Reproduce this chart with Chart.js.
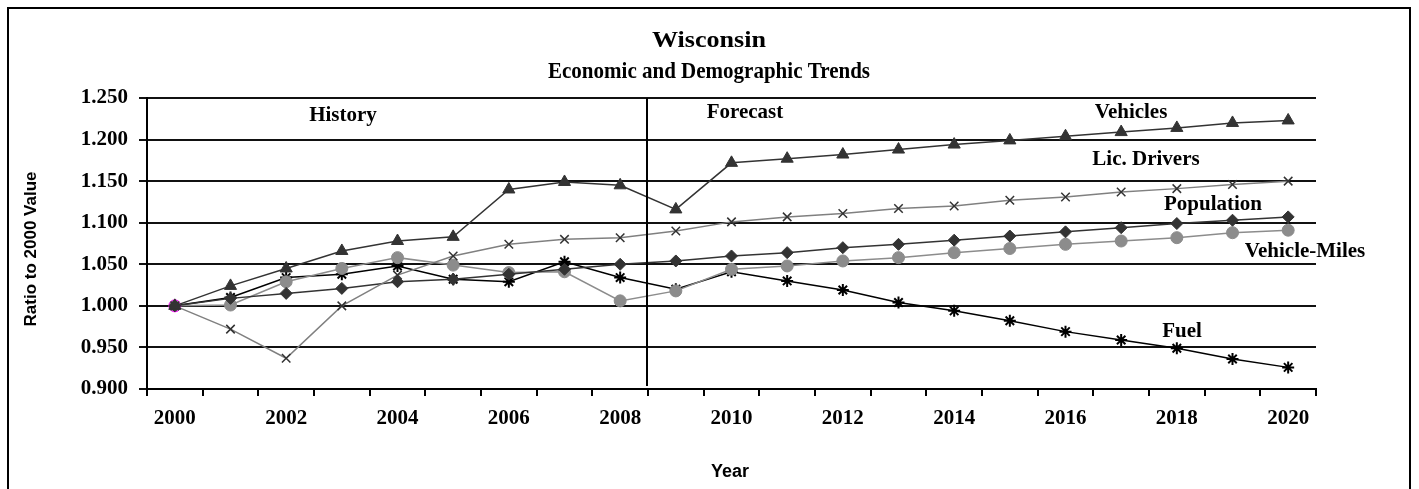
<!DOCTYPE html>
<html>
<head>
<meta charset="utf-8">
<script src="https://cdn.jsdelivr.net/npm/chart.js@4"></script>
<style>
html,body{margin:0;padding:0;background:#fff;}
#wrap{width:1419px;height:489px;position:relative;}
</style>
</head>
<body>
<div id="wrap"><canvas id="c" width="1419" height="489"></canvas></div>
<script>
const years = ['2000','2001','2002','2003','2004','2005','2006','2007','2008','2009','2010',
  '2011','2012','2013','2014','2015','2016','2017','2018','2019','2020'];
const yTicks = [0.900, 0.950, 1.000, 1.050, 1.100, 1.150, 1.200, 1.250];

const vehicles     = [1.000,1.024,1.045,1.066,1.078,1.083,1.140,1.149,1.145,1.116,1.172,1.177,1.182,1.188,1.194,1.199,1.204,1.209,1.214,1.220,1.223];
const licDrivers   = [1.000,0.972,0.937,1.000,1.037,1.060,1.074,1.080,1.082,1.090,1.101,1.107,1.111,1.117,1.120,1.127,1.131,1.137,1.141,1.146,1.150];
const population   = [1.000,1.009,1.015,1.021,1.029,1.032,1.038,1.044,1.050,1.054,1.060,1.064,1.070,1.074,1.079,1.084,1.089,1.094,1.099,1.103,1.107];
const vehicleMiles = [1.000,1.001,1.029,1.045,1.058,1.049,1.040,1.041,1.006,1.018,1.044,1.048,1.054,1.058,1.064,1.069,1.074,1.078,1.082,1.088,1.091];
const fuel         = [1.000,1.010,1.034,1.038,1.048,1.032,1.029,1.053,1.034,1.020,1.041,1.030,1.019,1.004,0.994,0.982,0.969,0.959,0.949,0.936,0.926];

const titleLines = ['Wisconsin', 'Economic and Demographic Trends'];
const yTitle = 'Ratio to 2000 Value';
const xTitle = 'Year';
const sectionLabels = ['History', 'Forecast'];
const seriesLabels = ['Vehicles', 'Lic. Drivers', 'Population', 'Vehicle-Miles', 'Fuel'];

const SERIF = '"Liberation Serif", "Times New Roman", serif';
const SANS = '"Liberation Sans", Arial, sans-serif';

function fitText(ctx, text, cx, y, width) {
  const w = ctx.measureText(text).width;
  ctx.save();
  ctx.translate(cx, y);
  ctx.scale(width / w, 1);
  ctx.fillText(text, 0, 0);
  ctx.restore();
}

const decor = {
  id: 'decor',
  beforeDraw(chart) {
    const ctx = chart.ctx;
    ctx.save();
    ctx.fillStyle = '#fff';
    ctx.fillRect(0, 0, chart.width, chart.height);
    ctx.strokeStyle = '#000';
    ctx.lineWidth = 2;
    ctx.strokeRect(8, 8, 1402, 500);
    ctx.restore();
  },
  afterDatasetsDraw(chart) {
    const ctx = chart.ctx;
    const xs = chart.scales.x, ca = chart.chartArea;
    ctx.save();
    // forecast separator
    const sx = (xs.getPixelForValue(8) + xs.getPixelForValue(9)) / 2 - 1;
    ctx.strokeStyle = '#000';
    ctx.lineWidth = 2;
    ctx.beginPath();
    ctx.moveTo(sx, ca.top);
    ctx.lineTo(sx, ca.bottom - 3);
    ctx.stroke();

    ctx.fillStyle = '#000';
    ctx.textAlign = 'center';
    ctx.textBaseline = 'alphabetic';
    // titles
    ctx.font = 'bold 24px ' + SERIF;
    fitText(ctx, titleLines[0], 709, 47, 114);
    fitText(ctx, titleLines[1], 709, 78, 322);
    // section and series labels
    ctx.font = 'bold 21px ' + SERIF;
    const lab = [
      [sectionLabels[0], 343, 121],
      [sectionLabels[1], 745, 118],
      [seriesLabels[0], 1131, 118],
      [seriesLabels[1], 1146, 165],
      [seriesLabels[2], 1213, 210],
      [seriesLabels[3], 1305, 257],
      [seriesLabels[4], 1182, 337]
    ];
    lab.forEach(l => ctx.fillText(l[0], l[1], l[2]));
    // axis titles
    ctx.font = 'bold 18px ' + SANS;
    ctx.fillText(xTitle, 730, 477);
    ctx.font = 'bold 17px ' + SANS;
    ctx.translate(36, 249);
    ctx.rotate(-Math.PI / 2);
    ctx.fillText(yTitle, 0, 0);
    ctx.restore();
  }
};

function ds(label, data, color, style, opts) {
  return Object.assign({
    label, data,
    borderColor: color,
    backgroundColor: color,
    pointBackgroundColor: color,
    pointBorderColor: color,
    borderWidth: 1.5,
    pointStyle: style,
    pointRadius: 6,
    pointBorderWidth: 1,
    tension: 0,
    fill: false
  }, opts || {});
}

new Chart(document.getElementById('c'), {
  type: 'line',
  data: {
    labels: years,
    datasets: [
      ds(seriesLabels[0], vehicles, '#333333', 'triangle', {pointRadius: 7}),
      ds(seriesLabels[1], licDrivers, '#808080', 'crossRot', {pointBorderColor: '#333333', pointBorderWidth: 1.5, pointRadius: 6}),
      ds(seriesLabels[2], population, '#333333', 'rectRot', {pointRadius: 6}),
      ds(seriesLabels[3], vehicleMiles, '#8c8c8c', 'circle', {pointRadius: 6,
        pointBorderColor: vehicleMiles.map((v, i) => i === 0 ? '#ff00ff' : '#8c8c8c')}),
      ds(seriesLabels[4], fuel, '#000000', 'star', {pointBorderWidth: 2, pointRadius: 6})
    ]
  },
  options: {
    responsive: false,
    animation: false,
    devicePixelRatio: 1,
    layout: {padding: {top: 98, right: 103, left: 0, bottom: 0}},
    plugins: {legend: {display: false}, title: {display: false}, tooltip: {enabled: false}},
    scales: {
      x: {
        type: 'category',
        offset: true,
        afterFit(s) { s.height = 100; },
        grid: {display: true, drawOnChartArea: false, drawTicks: true, offset: true,
               tickLength: 7, color: '#000', lineWidth: 2},
        border: {display: true, color: '#000', width: 2},
        ticks: {
          autoSkip: false, maxRotation: 0, padding: 10, color: '#000',
          font: {family: SERIF, size: 21, weight: 'bold'},
          callback(v, i) { return i % 2 === 0 ? years[i] : ''; }
        }
      },
      y: {
        min: yTicks[0], max: yTicks[yTicks.length - 1],
        afterFit(s) { s.width = 147; },
        afterBuildTicks(s) { s.ticks = yTicks.map(v => ({value: v})); },
        grid: {color: '#111', lineWidth: 2, drawTicks: true, tickLength: 8},
        border: {display: true, color: '#000', width: 2},
        ticks: {
          padding: 11, color: '#000',
          font: {family: SERIF, size: 21, weight: 'bold'},
          callback(v) { return Number(v).toFixed(3); }
        }
      }
    }
  },
  plugins: [decor]
});
</script>
</body>
</html>
